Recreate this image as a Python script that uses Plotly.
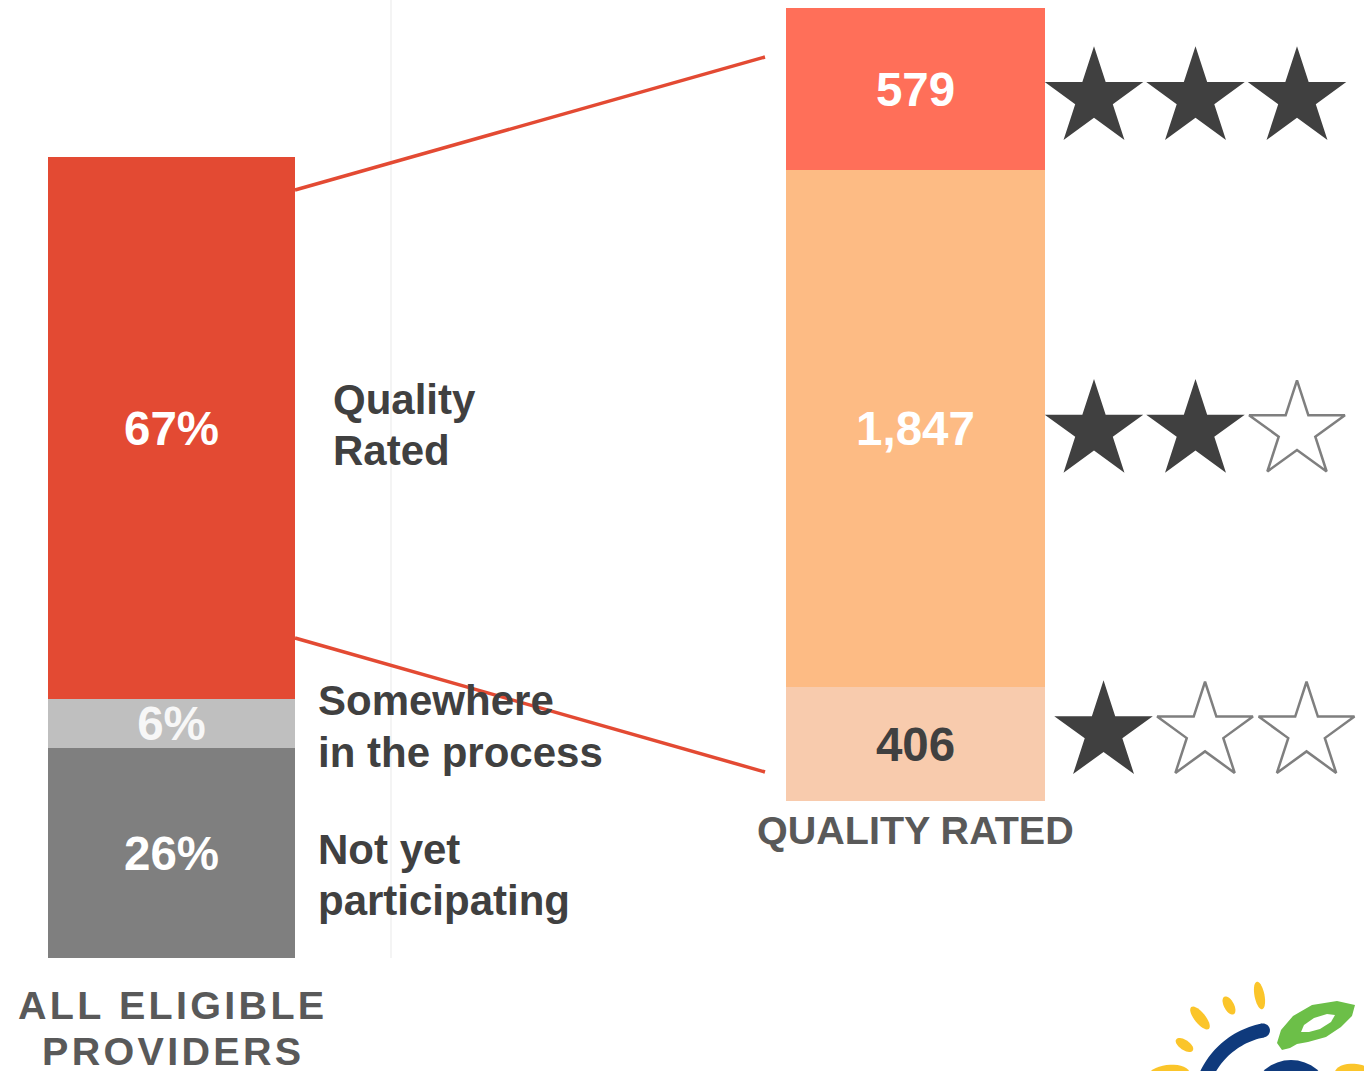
import numpy as np
import plotly.graph_objects as go

W, H = 1364, 1071

# ---------------- data ----------------
left_categories = ["Not yet participating", "Somewhere in the process", "Quality Rated"]
left_values = [26, 6, 67]
left_labels = ["26%", "6%", "67%"]
left_label_lines = [["Not yet", "participating"], ["Somewhere", "in the process"], ["Quality", "Rated"]]

right_categories = ["1 star", "2 stars", "3 stars"]
right_values = [406, 1847, 579]
right_labels = ["406", "1,847", "579"]
star_ratings = [1, 2, 3]

left_title_lines = ["ALL ELIGIBLE", "PROVIDERS"]
right_title = "QUALITY RATED"

# ---------------- styles ----------------
FONT = "Liberation Sans, Arial, Helvetica, sans-serif"
left_colors = ["#7f7f7f", "#bfbfbf", "#e34a33"]
left_text_colors = ["#ffffff", "#f7f7f7", "#ffffff"]
right_colors = ["#f8cbad", "#fdbb84", "#ff6f59"]
right_text_colors = ["#404040", "#ffffff", "#ffffff"]
DARK = "#404040"
TITLE_GRAY = "#595959"


def px(x):
    return x / W


def py(y):
    return 1 - y / H


fig = go.Figure()

# left stacked bar
for v, lab, c, tc in zip(left_values, left_labels, left_colors, left_text_colors):
    fig.add_trace(go.Bar(
        x=[0], y=[v], width=1, text=[lab], textposition="inside",
        insidetextanchor="middle", textangle=0, constraintext="none",
        textfont=dict(family=FONT, size=47.5, color=tc, weight="bold"),
        marker=dict(color=c, line=dict(width=0)),
        xaxis="x", yaxis="y", hoverinfo="skip"))

# right stacked bar
for v, lab, c, tc in zip(right_values, right_labels, right_colors, right_text_colors):
    fig.add_trace(go.Bar(
        x=[0], y=[v], width=1, text=[lab], textposition="inside",
        insidetextanchor="middle", textangle=0, constraintext="none",
        textfont=dict(family=FONT, size=47.5, color=tc, weight="bold"),
        marker=dict(color=c, line=dict(width=0)),
        xaxis="x2", yaxis="y2", hoverinfo="skip"))

# stars: one row per rating segment
right_total = sum(right_values)
units_per_px = right_total / (801 - 8)
row_nudge_px = [-12, 2, 9]      # visual nudges (pixels, downward positive)
row_x_shift = [0.094, 0.0, 0.0]
cum = np.cumsum([0] + right_values)
fx, fy, ox, oy = [], [], [], []
for i, r in enumerate(star_ratings):
    mid = (cum[i] + cum[i + 1]) / 2 - row_nudge_px[i] * units_per_px
    for j in range(3):
        xx = j + row_x_shift[i]
        if j < r:
            fx.append(xx); fy.append(mid)
        else:
            ox.append(xx); oy.append(mid)
fig.add_trace(go.Scatter(x=fx, y=fy, mode="markers", xaxis="x3", yaxis="y2",
                         marker=dict(symbol="star", size=74, color=DARK, line=dict(width=0)),
                         cliponaxis=False, hoverinfo="skip"))
fig.add_trace(go.Scatter(x=ox, y=oy, mode="markers", xaxis="x3", yaxis="y2",
                         marker=dict(symbol="star-open", size=72, color="#7f7f7f",
                                     line=dict(width=2.5, color="#7f7f7f")),
                         cliponaxis=False, hoverinfo="skip"))

# ---------------- annotations ----------------
ann = []


def text(t, xpix, ypix, size, color, xanchor="left"):
    ann.append(dict(text=t, x=px(xpix), y=py(ypix), xref="paper", yref="paper",
                    xanchor=xanchor, yanchor="middle", showarrow=False,
                    font=dict(family=FONT, size=size, color=color, weight="bold")))


label_pos = [(316, [849, 900]), (316, [700, 752]), (331, [399, 450])]
for lines, (xp, ys) in zip(left_label_lines, label_pos):
    for line, yp in zip(lines, ys):
        text(line, xp, yp, 42, DARK)

HS = "\u200a"
for line, yp in zip(left_title_lines, [1005, 1051]):
    spaced = HS.join(list(line))
    text(spaced, 171, yp, 39.5, TITLE_GRAY, xanchor="center")

text(right_title, 915.5, 830, 39.5, TITLE_GRAY, xanchor="center")

# ---------------- shapes ----------------
shapes = []

# faint vertical guide
shapes.append(dict(type="line", xref="paper", yref="paper", x0=px(391), x1=px(391),
                   y0=py(0), y1=py(958), line=dict(color="#f0f0f0", width=1.5), layer="below"))

# connector lines
RED = "#e34a33"
shapes.append(dict(type="line", xref="paper", yref="paper", x0=px(295), y0=py(190),
                   x1=px(765), y1=py(57), line=dict(color=RED, width=3.5)))
shapes.append(dict(type="line", xref="paper", yref="paper", x0=px(295), y0=py(638),
                   x1=px(765), y1=py(772), line=dict(color=RED, width=3.5)))


def path_from(pts):
    s = "M " + " L ".join(f"{px(a):.5f},{py(b):.5f}" for a, b in pts) + " Z"
    return s


def ellipse(cx, cy, a, b, ang_deg, n=36):
    t = np.linspace(0, 2 * np.pi, n, endpoint=False)
    ang = np.radians(ang_deg)
    xs = cx + a * np.cos(t) * np.cos(ang) - b * np.sin(t) * np.sin(ang)
    ys = cy + a * np.cos(t) * np.sin(ang) + b * np.sin(t) * np.cos(ang)
    return list(zip(xs, ys))


def add_path(pts, color):
    shapes.append(dict(type="path", xref="paper", yref="paper", path=path_from(pts),
                       fillcolor=color, line=dict(width=0)))


YEL = "#fbc52a"
BLUE = "#0f3a7c"
GREEN = "#6cbf48"
# sun rays
add_path(ellipse(1200, 1018, 14, 5.5, 51), YEL)
add_path(ellipse(1229, 1005.5, 10, 5, 62), YEL)
add_path(ellipse(1259.5, 995.5, 14, 5, 79), YEL)
add_path(ellipse(1184.5, 1045, 10, 5, 34), YEL)
add_path(ellipse(1168, 1076, 22, 11, -8), YEL)
add_path(ellipse(1356, 1077, 22, 13, 10), YEL)

# blue arc
cxa, cya, r_in, r_out = 1278, 1108, 72, 86
th = np.radians(np.linspace(101, 185, 40))
outer = [(cxa + r_out * np.cos(t), cya - r_out * np.sin(t)) for t in th]
inner = [(cxa + r_in * np.cos(t), cya - r_in * np.sin(t)) for t in th[::-1]]
add_path(outer + inner, BLUE)
rm = (r_in + r_out) / 2
add_path(ellipse(cxa + rm * np.cos(th[0]), cya - rm * np.sin(th[0]), 7, 7, 0), BLUE)
# blue blob
add_path(ellipse(1291, 1100, 40, 40, 0), BLUE)

# green leaf
leaf_outer = [(1277, 1043), (1281, 1030), (1293, 1016), (1312, 1005), (1337, 1001),
              (1355, 1005), (1352, 1016), (1341, 1027), (1326, 1037), (1308, 1042),
              (1297, 1044), (1290, 1048), (1282, 1050)]
leaf_inner = [(1301, 1032), (1304, 1025), (1314, 1018), (1327, 1014), (1335, 1015),
              (1331, 1022), (1320, 1029), (1309, 1032)]
add_path(leaf_outer, GREEN)
add_path(leaf_inner, "#ffffff")

# ---------------- layout ----------------
axis_off = dict(visible=False, fixedrange=True, showgrid=False, zeroline=False)
fig.update_layout(
    width=W, height=H, margin=dict(l=0, r=0, t=0, b=0, pad=0),
    paper_bgcolor="white", plot_bgcolor="rgba(0,0,0,0)",
    barmode="stack", bargap=0, showlegend=False,
    xaxis=dict(domain=[px(48), px(295)], range=[-0.5, 0.5], anchor="y", **axis_off),
    yaxis=dict(domain=[py(958), py(157)], range=[0, sum(left_values)], anchor="x", **axis_off),
    xaxis2=dict(domain=[px(786), px(1045)], range=[-0.5, 0.5], anchor="y2", **axis_off),
    yaxis2=dict(domain=[py(801), py(8)], range=[0, right_total], anchor="x2", **axis_off),
    xaxis3=dict(domain=[px(1045), 1.0], range=[(1045 - 1094) / 101.5, (1364 - 1094) / 101.5],
                anchor="y2", **axis_off),
    annotations=ann, shapes=shapes,
)

fig.write_html("out.html", include_plotlyjs=True, full_html=True,
               config={"displayModeBar": False},
               post_script="document.body.style.margin='0';document.body.style.overflow='hidden';")
